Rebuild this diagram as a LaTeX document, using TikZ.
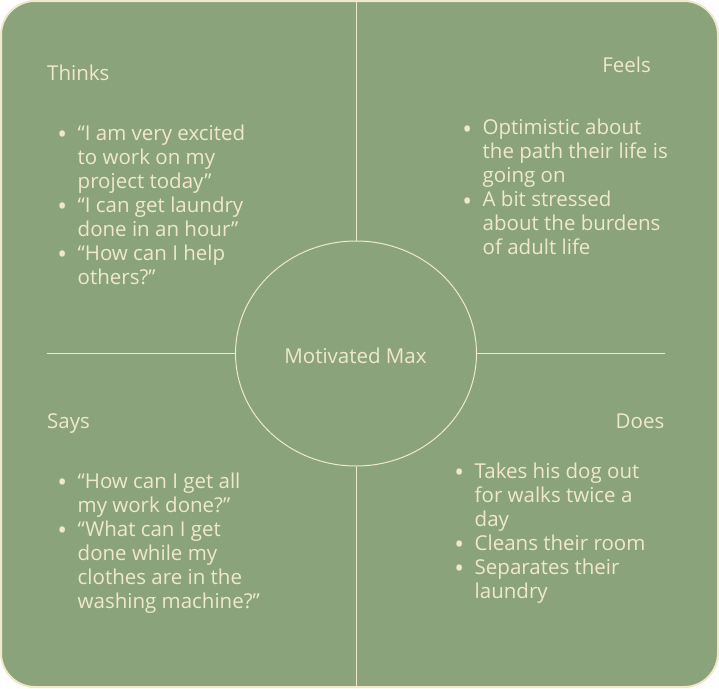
\documentclass[tikz,border=0pt]{standalone}
\usepackage{fontspec}
\setmainfont{Open Sans}
\usetikzlibrary{shapes.geometric}
\definecolor{sage}{HTML}{8BA37A}
\definecolor{cream}{HTML}{EFE8CD}
\newcommand{\itm}{\llap{\raisebox{-3.5pt}{\fontsize{26}{24}\selectfont•}\hspace{10.5pt}}}
\tikzset{
  heading/.style={text=cream, inner sep=0pt, font=\fontsize{20.5}{24}\selectfont},
  itemlist/.style={text=cream, inner sep=0pt, anchor=base west, font=\fontsize{20.5}{24}\selectfont},
  divider/.style={draw=cream, line width=1pt}
}

\begin{document}
\begin{tikzpicture}[x=1pt,y=-1pt]
\useasboundingbox (0,0) rectangle (719,688);
\node[draw=cream, fill=sage, line width=2pt, rounded corners=34pt, minimum width=717pt, minimum height=686pt, inner sep=0pt] (frame) at (359.5,344) {};
\node[ellipse, divider, minimum width=241pt, minimum height=225pt, inner sep=0pt] (max) at (356,353.5) {};
\node[heading, anchor=base] (max label) at (355.5,363) {Motivated Max};
\draw[divider] (max.north) -- (max.north |- frame.north);
\draw[divider] (max.south) -- (max.south |- frame.south);
\coordinate (left end) at (47,353.5);
\coordinate (right end) at (665,353.5);
\draw[divider] (max.west) -- (left end);
\draw[divider] (max.east) -- (right end);

\node[heading, anchor=base west] (thinks) at (47,80) {Thinks};
\node[heading, anchor=base east] (feels) at (651,72.5) {Feels};
\node[heading, anchor=base west] (says) at (47,428) {Says};
\node[heading, anchor=base east] (does) at (664.5,428) {Does};

\node[itemlist] (thinks list) at (77.5,140) {\begin{tabular}[t]{@{}l@{}}
\itm “I am very excited\\ to work on my\\ project today”\\
\itm “I can get laundry\\ done in an hour”\\
\itm “How can I help\\ others?”
\end{tabular}};
\node[itemlist] (feels list) at (482.5,134.5) {\begin{tabular}[t]{@{}l@{}}
\itm Optimistic about\\ the path their life is\\ going on\\
\itm A bit stressed\\ about the burdens\\ of adult life
\end{tabular}};
\node[itemlist] (says list) at (77.5,488) {\begin{tabular}[t]{@{}l@{}}
\itm “How can I get all\\ my work done?”\\
\itm “What can I get\\ done while my\\ clothes are in the\\ washing machine?”
\end{tabular}};
\node[itemlist] (does list) at (474.5,478) {\begin{tabular}[t]{@{}l@{}}
\itm Takes his dog out\\ for walks twice a\\ day\\
\itm Cleans their room\\
\itm Separates their\\ laundry
\end{tabular}};
\end{tikzpicture}
\end{document}
